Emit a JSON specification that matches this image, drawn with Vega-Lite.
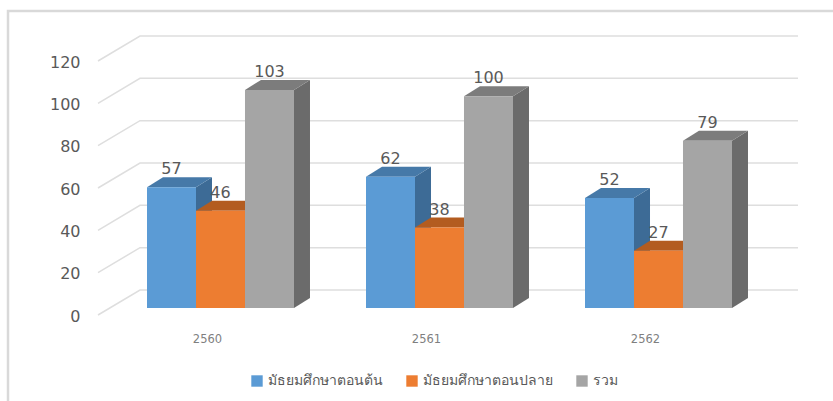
{"$schema":"https://vega.github.io/schema/vega-lite/v6.json","width":657,"height":254,"autosize":"none","padding":{"left":111,"top":54,"right":65,"bottom":93},"background":"white","config":{"view":{"stroke":null}},
"datasets":{"rows":[
{"year":"2560","level":"มัธยมศึกษาตอนต้น","n":57},{"year":"2560","level":"มัธยมศึกษาตอนปลาย","n":46},{"year":"2560","level":"รวม","n":103},
{"year":"2561","level":"มัธยมศึกษาตอนต้น","n":62},{"year":"2561","level":"มัธยมศึกษาตอนปลาย","n":38},{"year":"2561","level":"รวม","n":100},
{"year":"2562","level":"มัธยมศึกษาตอนต้น","n":52},{"year":"2562","level":"มัธยมศึกษาตอนปลาย","n":27},{"year":"2562","level":"รวม","n":79}],
"ticks":[{"t":0},{"t":20},{"t":40},{"t":60},{"t":80},{"t":100},{"t":120}]},
"data":{"name":"rows"},
"encoding":{
"x":{"field":"year","type":"nominal","scale":{"domain":["2560","2561","2562"],"paddingInner":0,"paddingOuter":0},"axis":{"title":null,"labelAngle":0,"domain":false,"ticks":false,"labelPadding":25,"labelOffset":-13,"labelFont":"DejaVu Sans","labelFontSize":11.5,"labelColor":"#7f7f7f","grid":false}},
"y":{"field":"n","type":"quantitative","stack":null,"scale":{"domain":[0,120],"nice":false},"axis":{"title":null,"values":[0,20,40,60,80,100,120],"domain":false,"ticks":false,"grid":false,"labelPadding":31,"labelOffset":8,"labelFont":"DejaVu Sans","labelFontSize":16,"labelColor":"#595959"}},
"xOffset":{"field":"level","type":"nominal","sort":["มัธยมศึกษาตอนต้น","มัธยมศึกษาตอนปลาย","รวม"],"scale":{"paddingInner":0,"paddingOuter":0.735}}},
"layer":[
{"data":{"name":"ticks"},"mark":{"type":"point","size":4,"opacity":1,"filled":false,"stroke":"#dedede","strokeWidth":1.5,"shape":"M-13 7 L29 -18 L687 -18"},"encoding":{"x":{"datum":"2560"},"y":{"field":"t","type":"quantitative"},"xOffset":{"value":0}}},
{"data":{"values":[{"t":120}]},"mark":{"type":"point","size":4,"opacity":1,"filled":false,"stroke":"#d9d9d9","strokeWidth":2.5,"shape":"M-103 350 L-103 -43 L 730 -43"},"encoding":{"x":{"datum":"2560"},"y":{"field":"t","type":"quantitative"},"xOffset":{"value":0}}},
{"mark":{"type":"point","size":4,"opacity":1,"filled":true},"encoding":{"shape":{"field":"n","type":"nominal","legend":null,"scale":{"domain":[57,46,103,62,38,100,52,27,79],"range":["M24.5 0 L40.5 -10 L40.5 110.65 L24.5 120.65 Z","M24.5 0 L40.5 -10 L40.5 87.37 L24.5 97.37 Z","M24.5 0 L40.5 -10 L40.5 208.02 L24.5 218.02 Z","M24.5 0 L40.5 -10 L40.5 121.23 L24.5 131.23 Z","M24.5 0 L40.5 -10 L40.5 70.43 L24.5 80.43 Z","M24.5 0 L40.5 -10 L40.5 201.67 L24.5 211.67 Z","M24.5 0 L40.5 -10 L40.5 100.07 L24.5 110.07 Z","M24.5 0 L40.5 -10 L40.5 47.15 L24.5 57.15 Z","M24.5 0 L40.5 -10 L40.5 157.22 L24.5 167.22 Z"]}},"fill":{"field":"level","type":"nominal","legend":null,"scale":{"domain":["มัธยมศึกษาตอนต้น","มัธยมศึกษาตอนปลาย","รวม"],"range":["#3d6b96","#a85a22","#6b6b6b"]}}}},
{"mark":{"type":"point","size":4,"opacity":1,"filled":true,"shape":"M-24.5 0 L24.5 0 L40.5 -10 L-8.5 -10 Z"},"encoding":{"fill":{"field":"level","type":"nominal","legend":null,"scale":{"domain":["มัธยมศึกษาตอนต้น","มัธยมศึกษาตอนปลาย","รวม"],"range":["#4679a8","#b35c20","#7c7c7c"]}}}},
{"mark":{"type":"bar","width":49},"encoding":{"y2":{"datum":0},"color":{"field":"level","type":"nominal","scale":{"domain":["มัธยมศึกษาตอนต้น","มัธยมศึกษาตอนปลาย","รวม"],"range":["#5b9bd5","#ed7d31","#a5a5a5"]},"legend":{"title":null,"orient":"none","legendX":139,"legendY":320,"direction":"horizontal","columns":3,"symbolType":"square","symbolSize":130,"symbolStrokeWidth":0,"labelFont":"Noto Sans","labelFontSize":14,"labelColor":"#595959","columnPadding":22}}}},
{"mark":{"type":"text","dy":-18,"font":"DejaVu Sans","fontSize":16,"fill":"#595959"},"encoding":{"text":{"field":"n","type":"quantitative"}}}
],
"resolve":{"scale":{"color":"independent","fill":"independent"}}}
